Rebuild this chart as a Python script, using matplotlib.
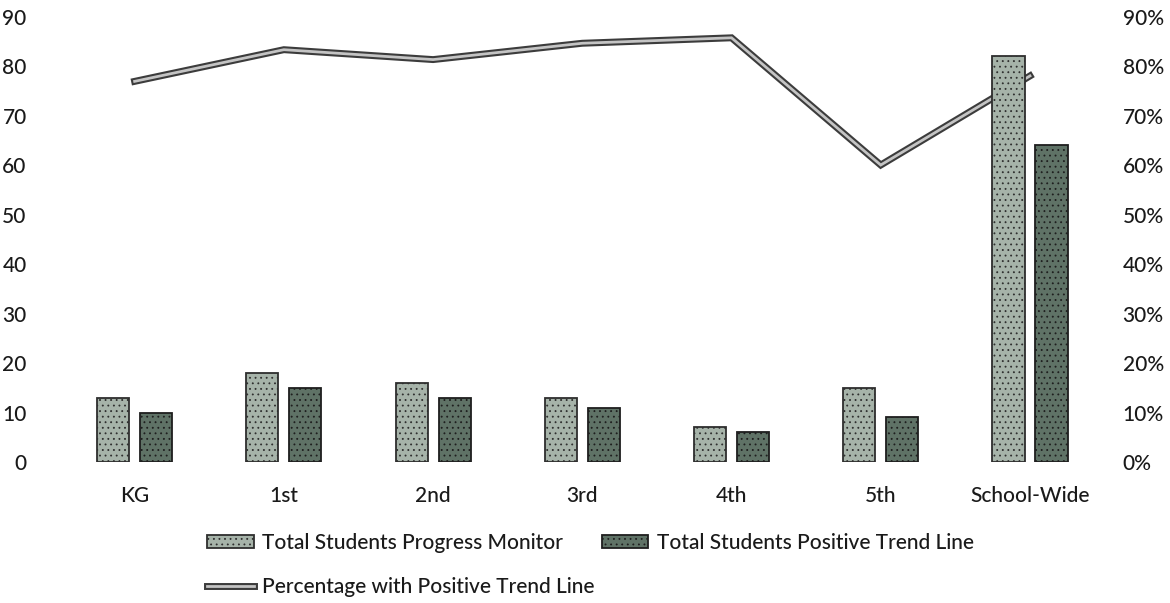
import matplotlib
matplotlib.use("Agg")
import matplotlib.pyplot as plt
import matplotlib.patheffects as pe
import numpy as np

# data
grades = ["KG", "1st", "2nd", "3rd", "4th", "5th", "School-Wide"]
total_monitored = [13, 18, 16, 13, 7, 15, 82]
total_positive = [10, 15, 13, 11, 6, 9, 64]
pct_positive = [76.9, 83.3, 81.3, 84.6, 85.7, 60.0, 78.0]

left_ticks = [0, 10, 20, 30, 40, 50, 60, 70, 80, 90]
right_ticks = [0, 10, 20, 30, 40, 50, 60, 70, 80, 90]
right_labels = [f"{t}%" for t in right_ticks]

plt.rcParams["font.family"] = ["Lato", "DejaVu Sans"]
plt.rcParams["font.weight"] = "medium"
plt.rcParams["hatch.linewidth"] = 0.6

FS = 15
TXT = "#1a1a1a"

fig = plt.figure(figsize=(11.7, 6.03), dpi=100)
ax = fig.add_axes([0.0513, 0.2338, 0.8928, 0.7388])
ax2 = ax.twinx()

x = np.arange(len(grades))
w = 0.215
off = 0.144

# line sits behind the bars, so put the count axes on top
line, = ax2.plot(x, pct_positive, color="#c4c4c4", lw=2.0, solid_joinstyle="miter",
                 path_effects=[pe.Stroke(linewidth=5, foreground="#3c3c3c"), pe.Normal()],
                 label="Percentage with Positive Trend Line")
ax.set_zorder(ax2.get_zorder() + 1)
ax.patch.set_visible(False)

b1 = ax.bar(x - off, total_monitored, w, color="#a6b3a9", edgecolor="#2e2e2e",
            lw=1.3, hatch="...", label="Total Students Progress Monitor")
b2 = ax.bar(x + off, total_positive, w, color="#5f7266", edgecolor="#1e1e1e",
            lw=1.3, hatch="...", label="Total Students Positive Trend Line")

ax.set_xlim(-0.5, len(grades) - 0.5)
ax.set_ylim(0, 90)
ax2.set_ylim(0, 90)
ax.set_yticks(left_ticks)
ax2.set_yticks(right_ticks)
ax2.set_yticklabels(right_labels)
ax.set_xticks(x)
ax.set_xticklabels(grades)

for a in (ax, ax2):
    for s in a.spines.values():
        s.set_visible(False)
ax.tick_params(axis="y", length=0, pad=24, labelsize=FS, colors=TXT)
ax.tick_params(axis="x", length=0, pad=17, labelsize=FS, colors=TXT)
ax2.tick_params(axis="y", length=0, pad=13, labelsize=FS, colors=TXT)

# Excel-style flowing legend: two bar entries on the first row, line below
leg_kw = dict(frameon=False, fontsize=FS, handlelength=2.25, handleheight=0.55,
              handletextpad=0.4, borderaxespad=0, borderpad=0, labelcolor=TXT)
fig.legend([b1, b2], [b1.get_label(), b2.get_label()], ncol=2,
           loc="center left", bbox_to_anchor=(0.1769, 0.0995),
           columnspacing=1.85, **leg_kw)
fig.legend([line], [line.get_label()], loc="center left",
           bbox_to_anchor=(0.1769, 0.0265), **leg_kw)

fig.savefig("out.png", dpi=100)
